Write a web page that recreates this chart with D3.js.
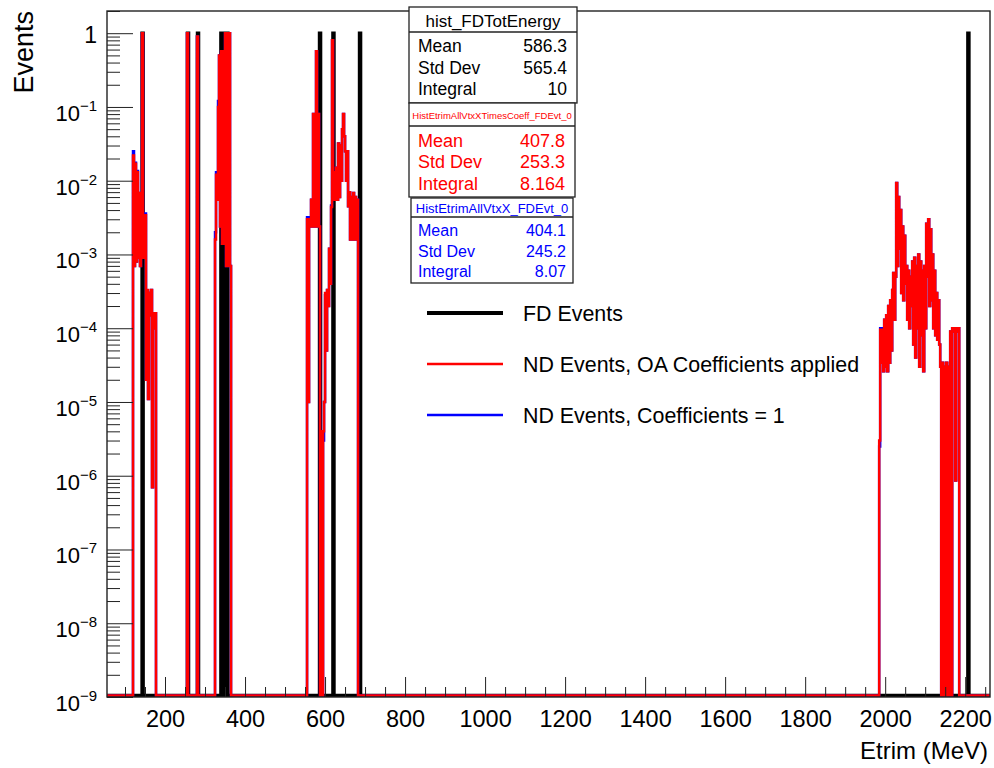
<!DOCTYPE html>
<html>
<head>
<script src="https://cdn.jsdelivr.net/npm/d3@7"></script>
<style>
  body { margin: 0; background: #fff; }
  text { font-family: "Liberation Sans", Arial, sans-serif; }
</style>
</head>
<body>
<svg id="chart" width="994" height="768"></svg>
<script>
// ---- data ----
const binW = 2.5;   // MeV per bin
const xDomain = [55, 2262];
const yDomain = [1e-9, 2];

// FD events: one entry per event (bin centre, content 1)
const fdEvents = [144, 257.5, 282.5, 341, 348, 356, 587.5, 621, 687.5, 2208];

// ND events, OA coefficients applied: cluster start (MeV) + bin contents
const ndOaStarts = [120, 255, 280, 325, 555, 1985];
const ndOaValues = [
  [0.022, 7e-4, 0.017, 8e-4, 0.013, 9e-4, 0.0068, 7e-4, 0.006, 1.0, 9e-4, 0.0034, 0.0034, 2e-5,
   3.3e-4, 1.1e-5, 3e-4, 1.5e-4, 3.3e-4, 7e-7, 1.6e-4, 1e-4, 1.6e-4],
  [1.0],
  [0.9],
  [0.0016, 0.012, 0.0055, 0.1, 0.5, 0.0024, 0.57, 0.0014, 0.57, 0.0014, 1.0, 7e-4, 1.0, 7e-4, 1.0, 7e-4],
  [0.003, 1e-5, 0.003, 0.0024, 0.0055, 0.0024, 0.08, 0.0024, 0.04, 0.57, 0.0024, 0.08, 0.0024, 0,
   4e-6, 0, 4e-6, 1e-5, 3e-4, 5e-5, 3.3e-4, 2e-4, 0.0012, 4e-4, 0.0044, 0.8, 0.0055, 0.013, 0.0055,
   0.015, 0.0055, 0.032, 0.006, 0.03, 0.01, 0.05, 0.08, 0.04, 0.025, 0.01, 0.025, 0.0045, 0.007,
   0.0016, 0.006, 0.0016, 0.0068, 0.0016, 0.006, 0.0016, 0.0055],
  [3e-6, 9.5e-5, 3.4e-5, 9.5e-5, 2.6e-5, 1.3e-4, 3e-5, 1.5e-4, 2.6e-5, 2e-4, 3.4e-5, 2.4e-4, 5e-5,
   3.3e-4, 5.6e-4, 1.3e-4, 5e-4, 0.0093, 7e-4, 0.006, 0.0012, 0.004, 3e-4, 0.0024, 2.4e-4, 0.0018,
   4e-4, 7e-4, 1.3e-4, 6e-4, 1e-4, 5e-4, 2e-4, 8e-4, 6e-5, 9e-4, 4e-5, 7e-4, 1e-4, 0.001, 3e-5,
   8e-4, 8e-5, 6e-4, 2.6e-5, 7e-4, 1e-4, 0.0026, 5e-4, 0.003, 2e-4, 0.0022, 2.4e-4, 0.001, 1e-4,
   6e-4, 8e-5, 3e-4, 7e-5, 2.4e-4, 6e-5, 3e-5, 0, 3.4e-5, 0, 3e-5, 0, 3.4e-5, 0, 3e-5, 0, 9e-5,
   0, 1e-4, 9e-5, 1e-4, 8.6e-7, 1e-4, 9e-5, 1e-4]
];

// ND events, coefficients = 1
const ndStarts = [120, 255, 280, 325, 555, 1985];
const ndValues = [
  [0.025, 7e-4, 0.0175, 8e-4, 0.0135, 9e-4, 0.0068, 7e-4, 0.006, 1.0, 9e-4, 0.0036, 0.0036, 2e-5,
   3.1e-4, 1.1e-5, 3e-4, 1.5e-4, 3.3e-4, 7e-7, 1.6e-4, 1e-4, 1.6e-4],
  [1.0],
  [0.9],
  [0.002, 0.013, 0.0058, 0.12, 0.5, 0.0024, 0.57, 0.0014, 0.57, 0.0014, 1.0, 7e-4, 1.0, 7e-4, 1.0, 7e-4],
  [0.0032, 1e-5, 0.0032, 0.0024, 0.0055, 0.0024, 0.08, 0.0024, 0.04, 0.57, 0.0024, 0.08, 0.0024, 0,
   4e-6, 0, 3e-6, 1e-5, 2.8e-4, 5e-5, 3.3e-4, 2e-4, 0.0012, 4e-4, 0.0046, 0.8, 0.0055, 0.013, 0.0055,
   0.015, 0.0055, 0.032, 0.006, 0.03, 0.01, 0.05, 0.08, 0.04, 0.025, 0.01, 0.025, 0.0045, 0.007,
   0.0016, 0.006, 0.0016, 0.0068, 0.0016, 0.006, 0.0016, 0.0055],
  [2.5e-6, 1e-4, 3.4e-5, 1e-4, 2.6e-5, 1.3e-4, 3e-5, 1.5e-4, 2.6e-5, 2e-4, 3.4e-5, 2.4e-4, 5e-5,
   3.3e-4, 5.6e-4, 1.3e-4, 5e-4, 0.0093, 7e-4, 0.006, 0.0012, 0.004, 3e-4, 0.0024, 2.4e-4, 0.0018,
   4e-4, 7e-4, 1.3e-4, 6e-4, 1e-4, 5e-4, 2e-4, 8e-4, 6e-5, 9e-4, 4e-5, 7e-4, 1e-4, 0.001, 3e-5,
   8e-4, 8e-5, 6e-4, 2.6e-5, 7e-4, 1e-4, 0.0026, 5e-4, 0.003, 2e-4, 0.0022, 2.4e-4, 0.001, 1e-4,
   6e-4, 8e-5, 3e-4, 7e-5, 2.4e-4, 6e-5, 3e-5, 0, 3.4e-5, 0, 3e-5, 0, 3.4e-5, 0, 3e-5, 0, 9e-5,
   0, 1e-4, 9e-5, 1e-4, 8.6e-7, 1e-4, 9e-5, 1e-4]
];

const xMajorTicks = [200, 400, 600, 800, 1000, 1200, 1400, 1600, 1800, 2000, 2200];
const yExponents = [0, -1, -2, -3, -4, -5, -6, -7, -8, -9];

const legendLabels = ["FD Events", "ND Events, OA Coefficients applied", "ND Events, Coefficients = 1"];
const statTitles = ["hist_FDTotEnergy", "HistEtrimAllVtxXTimesCoeff_FDEvt_0", "HistEtrimAllVtxX_FDEvt_0"];
const statNames = ["Mean", "Std Dev", "Integral"];
const statFd = ["586.3", "565.4", "10"];
const statNdOa = ["407.8", "253.3", "8.164"];
const statNd = ["404.1", "245.2", "8.07"];

// ---- layout ----
const svg = d3.select("#chart");
const pLeft = 107, pRight = 990, pTop = 11, pBottom = 697;

const x = d3.scaleLinear().domain(xDomain).range([pLeft, pRight]);
const y = d3.scaleLog().domain(yDomain).range([pBottom, pTop]);

svg.append("rect").attr("width", 994).attr("height", 768).attr("fill", "#fff");

svg.append("clipPath").attr("id", "plotClip")
  .append("rect").attr("x", pLeft).attr("y", pTop)
  .attr("width", pRight - pLeft).attr("height", pBottom - pTop);

function histPoints(starts, values) {
  const pts = [[xDomain[0], 0]];
  starts.forEach(function (s, i) {
    const vals = values[i];
    pts.push([s, 0]);
    vals.forEach(function (v, j) {
      pts.push([s + j * binW, v], [s + (j + 1) * binW, v]);
    });
    pts.push([s + vals.length * binW, 0]);
  });
  pts.push([xDomain[1], 0]);
  return pts;
}

// empty bins sit on the bottom edge, drawn just inside the frame
const line = d3.line()
  .x(d => x(d[0]))
  .y(d => Math.min(y(Math.max(d[1], yDomain[0])), pBottom - 1.6));

const plot = svg.append("g").attr("clip-path", "url(#plotClip)");

// FD histogram
plot.append("path")
  .attr("d", line(histPoints(fdEvents.map(e => e - binW / 2), fdEvents.map(() => [1]))))
  .attr("fill", "none").attr("stroke", "#000").attr("stroke-width", 3.5);

// ND, coefficients = 1
plot.append("path")
  .attr("d", line(histPoints(ndStarts, ndValues)))
  .attr("fill", "none").attr("stroke", "#0000ff").attr("stroke-width", 2.5);

// ND, OA coefficients applied
plot.append("path")
  .attr("d", line(histPoints(ndOaStarts, ndOaValues)))
  .attr("fill", "none").attr("stroke", "#ff0000").attr("stroke-width", 2.5);

// frame
svg.append("rect")
  .attr("x", pLeft).attr("y", pTop)
  .attr("width", pRight - pLeft).attr("height", pBottom - pTop)
  .attr("fill", "none").attr("stroke", "#222").attr("stroke-width", 1.4);

// x axis: major + minor ticks pointing up
const xMinor = d3.range(100, xDomain[1], 50).filter(v => v % 200 !== 0);
svg.append("g")
  .attr("transform", `translate(0, ${pBottom})`)
  .call(d3.axisBottom(x).tickValues(xMinor).tickSize(-10).tickFormat(""))
  .call(g => g.select(".domain").remove());
svg.append("g")
  .attr("transform", `translate(0, ${pBottom})`)
  .call(d3.axisBottom(x).tickValues(xMajorTicks).tickSize(-20).tickPadding(13)
    .tickFormat(d3.format("d")))
  .call(g => g.select(".domain").remove())
  .call(g => g.selectAll("text")
    .style("font-size", "23.5px").attr("fill", "#000"));

// y axis: decades + 2..9 minors pointing right
const yMajor = yExponents.map(e => Math.pow(10, e));
const yMinor = [];
yExponents.forEach(function (e) {
  for (let k = 2; k <= 9; k++) {
    const v = k * Math.pow(10, e);
    if (v <= yDomain[1]) yMinor.push(v);
  }
});
svg.append("g")
  .attr("transform", `translate(${pLeft}, 0)`)
  .call(d3.axisLeft(y).tickValues(yMinor).tickSize(-13).tickFormat(""))
  .call(g => g.select(".domain").remove());
svg.append("g")
  .attr("transform", `translate(${pLeft}, 0)`)
  .call(d3.axisLeft(y).tickValues(yMajor).tickSize(-26).tickFormat(""))
  .call(g => g.select(".domain").remove());
svg.selectAll(".tick line").attr("stroke", "#222");

const yLabels = svg.append("g").selectAll("text")
  .data(yExponents)
  .join("text")
  .attr("x", 97)
  .attr("y", d => y(Math.pow(10, d)) + (d === 0 ? 9.5 : 14))
  .attr("text-anchor", "end")
  .attr("fill", "#000");
yLabels.each(function (d) {
  const t = d3.select(this);
  if (d === 0) {
    t.append("tspan").style("font-size", "23px").text("1");
  } else {
    t.append("tspan").style("font-size", "22px").text("10");
    t.append("tspan").style("font-size", "15px").attr("dy", -10).text("\u2212" + Math.abs(d));
  }
});

// axis titles
svg.append("text")
  .attr("transform", "translate(33, 11) rotate(-90)")
  .attr("text-anchor", "end")
  .style("font-size", "27px")
  .text("Events");
svg.append("text")
  .attr("x", 988).attr("y", 759)
  .attr("text-anchor", "end")
  .style("font-size", "24px")
  .text("Etrim (MeV)");

// stat boxes
function statBox(bx, by, bw, bh, divY, title, titleSize, titleBase, vals, color, fontSize, bases, valX) {
  const g = svg.append("g");
  g.append("rect").attr("x", bx).attr("y", by).attr("width", bw).attr("height", bh)
    .attr("fill", "#fff").attr("stroke", "#222").attr("stroke-width", 1.3);
  g.append("line").attr("x1", bx).attr("x2", bx + bw).attr("y1", divY).attr("y2", divY)
    .attr("stroke", "#222").attr("stroke-width", 1.3);
  g.append("text").attr("x", bx + bw / 2).attr("y", titleBase)
    .attr("text-anchor", "middle").attr("fill", color)
    .style("font-size", titleSize + "px").text(title);
  statNames.forEach(function (n, i) {
    g.append("text").attr("x", 418).attr("y", bases[i]).attr("fill", color)
      .style("font-size", fontSize + "px").text(n);
    g.append("text").attr("x", valX).attr("y", bases[i]).attr("fill", color)
      .attr("text-anchor", "end").style("font-size", fontSize + "px").text(vals[i]);
  });
}
statBox(409, 7, 168, 96, 32, statTitles[0], 17, 27, statFd, "#000", 17.5, [52, 74, 95], 567);
statBox(409, 103, 166, 94, 126, statTitles[1], 9.5, 119, statNdOa, "#ff0000", 18, [147, 168, 190], 565);
statBox(411, 198, 162, 85, 217, statTitles[2], 13, 213, statNd, "#0000ff", 16, [236, 257, 277], 566);

// legend
const legendColors = ["#000", "#ff0000", "#0000ff"];
const legendWidths = [4, 2.5, 2.5];
const legendY = [313, 364, 415];
legendLabels.forEach(function (lab, i) {
  svg.append("line").attr("x1", 427).attr("x2", 503)
    .attr("y1", legendY[i]).attr("y2", legendY[i])
    .attr("stroke", legendColors[i]).attr("stroke-width", legendWidths[i]);
  svg.append("text").attr("x", 523).attr("y", legendY[i] + 7.5)
    .style("font-size", "21.4px").attr("fill", "#000").text(lab);
});
</script>
</body>
</html>
